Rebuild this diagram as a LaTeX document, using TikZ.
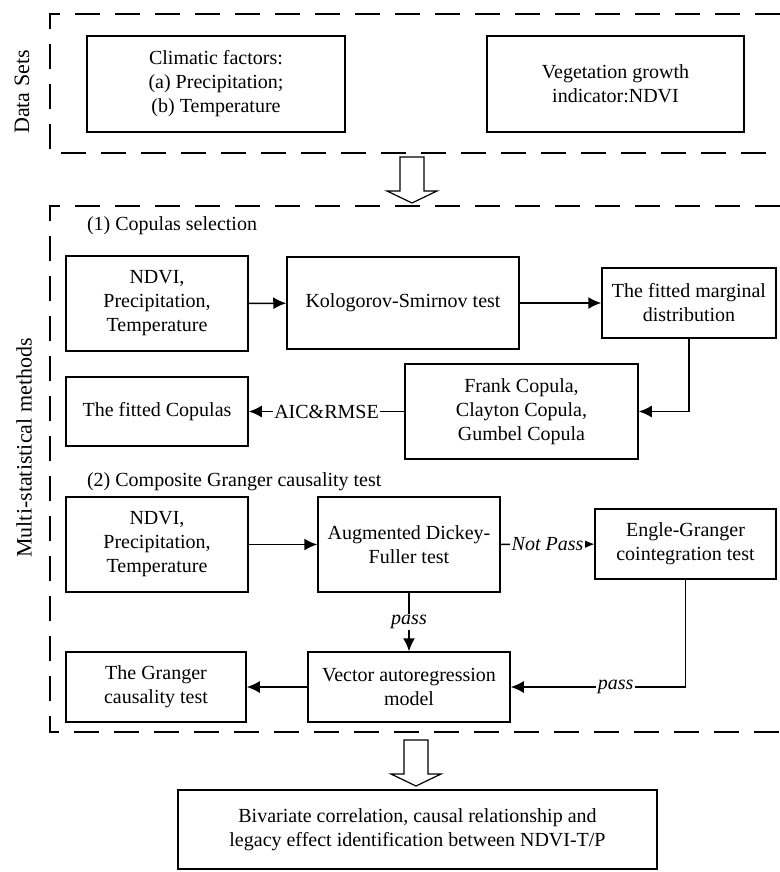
\documentclass[tikz,border=0pt]{standalone}
\usepackage{fontspec}
\setmainfont{Liberation Serif}
\usetikzlibrary{arrows.meta}
\tikzset{
  box/.style={draw, line width=0.75pt, align=center, inner sep=0pt, font=\fontsize{10}{12}\selectfont},
  frame/.style={line width=1pt, dash pattern=on 12.5pt off 7.5pt},
  link/.style={line width=0.75pt, -{Latex[length=6.5pt,width=6pt]}},
  tag/.style={fill=white, inner sep=0.8pt, font=\fontsize{10}{12}\selectfont\itshape},
}

\begin{document}
\begin{tikzpicture}[x=0.5pt,y=-0.5pt]
            \useasboundingbox (0,0) rectangle (780,872);
            \draw[frame] (780,14)--(50,14)--(50,153)--(780,153);
            \draw[frame] (780,206)--(50,206)--(50,732)--(780,732);
            \node[rotate=90,font=\fontsize{11}{13}\selectfont] (datalab) at (22,92) {Data Sets};
            \node[rotate=90,font=\fontsize{11}{13}\selectfont] (methlab) at (24,448) {Multi-statistical methods};
            \node[anchor=west,font=\fontsize{10}{12}\selectfont] (copsel) at (80,226) {(1) Copulas selection};
            \node[anchor=west,font=\fontsize{10}{12}\selectfont] (grsel) at (80,482) {(2) Composite Granger causality test};
            \node[box,minimum width=129pt,minimum height=48pt] (clim) at (216,84) {Climatic factors:\\(a) Precipitation;\\(b) Temperature};
            \node[box,minimum width=128.5pt,minimum height=48pt] (veg) at (615.5,84) {Vegetation growth\\indicator:NDVI};
            \node[box,minimum width=91pt,minimum height=47.5pt] (ndvia) at (157,303.5) {NDVI,\\Precipitation,\\Temperature};
            \node[box,minimum width=116pt,minimum height=46pt] (ks) at (403,303) {Kologorov-Smirnov test};
            \node[box,minimum width=87pt,minimum height=35pt] (marg) at (689,303) {The fitted marginal\\distribution};
            \node[box,minimum width=91pt,minimum height=34.5pt] (fitcop) at (157,411.5) {The fitted Copulas};
            \node[box,minimum width=116.5pt,minimum height=47.5pt] (frank) at (521.5,411.5) {Frank Copula,\\Clayton Copula,\\Gumbel Copula};
            \node[box,minimum width=91pt,minimum height=47.5pt] (ndvib) at (157,544.5) {NDVI,\\Precipitation,\\Temperature};
            \node[box,minimum width=91pt,minimum height=47.5pt] (adf) at (409,544.5) {Augmented Dickey-\\Fuller test};
            \node[box,minimum width=90.5pt,minimum height=35pt] (eg) at (685.5,544) {Engle-Granger\\cointegration test};
            \node[box,minimum width=101pt,minimum height=35pt] (var) at (409,687) {Vector autoregression\\model};
            \node[box,minimum width=90pt,minimum height=35pt] (granger) at (156,687) {The Granger\\causality test};
            \node[box,minimum width=239.5pt,minimum height=39.5pt] (result) at (417.5,829.5) {Bivariate correlation, causal relationship and\\legacy effect identification between NDVI-T/P};
            \foreach \cx/\ty in {412/157,416/740}{
                \draw[line width=0.6pt,fill=white] (\cx-12,\ty)--(\cx+12,\ty)--(\cx+12,\ty+34)--(\cx+25,\ty+34)
                    --(\cx,\ty+46)--(\cx-25,\ty+34)--(\cx-12,\ty+34)--cycle;
            }
            \draw[link] (ndvia)--(ks);
            \draw[link] (ks)--(marg);
            \draw[link] (marg.south)|-(frank.east);
            \draw[link] (frank)--node[tag,font=\fontsize{10}{12}\selectfont]{AIC\&RMSE}(fitcop);
            \draw[link] (ndvib)--(adf);
            \draw[link] (adf)--node[tag]{Not Pass}(eg);
            \draw[link] (adf)--node[tag]{pass}(var);
            \draw[link] (eg.south)|-node[tag,pos=0.7]{pass}(var.east);
            \draw[link] (var)--(granger);
        \end{tikzpicture}
\end{document}
